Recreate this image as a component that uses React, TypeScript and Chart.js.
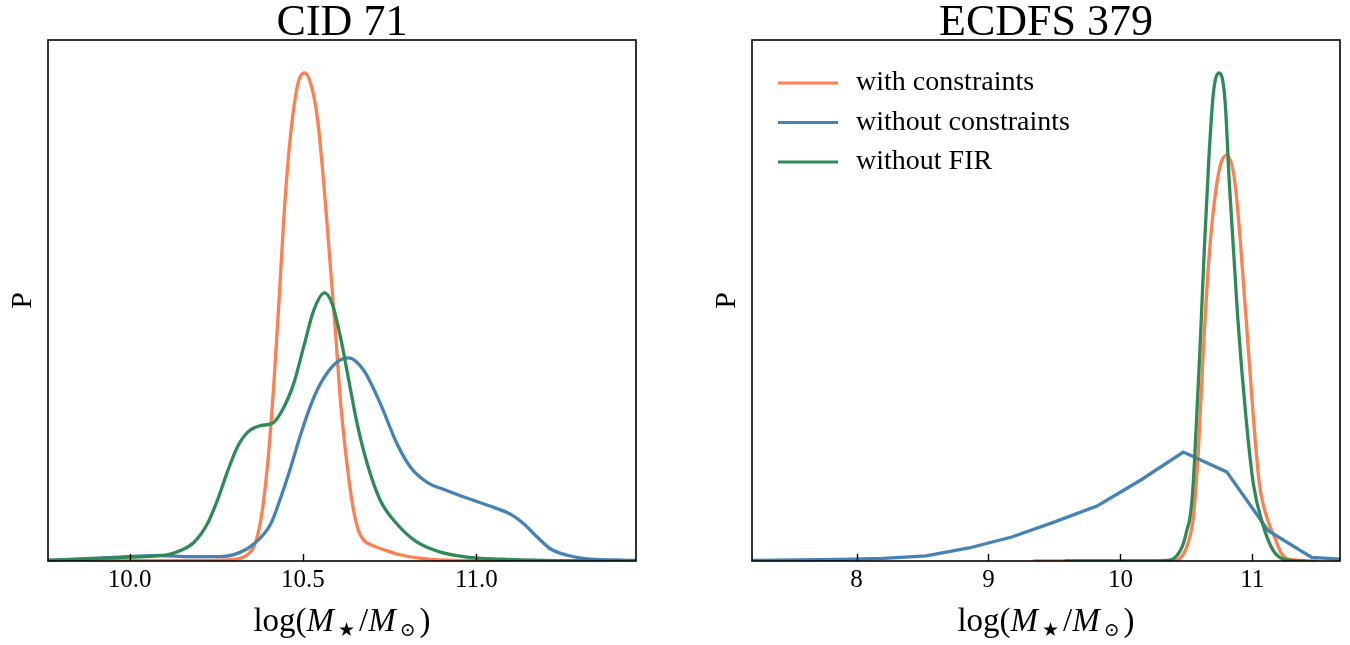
import React, { useEffect, useRef } from 'react';
import { Chart, registerables } from 'chart.js';

Chart.register(...registerables);

const SERIF = '"Liberation Serif", "Times New Roman", "DejaVu Serif", serif';

const SERIES_LABELS = ['with constraints', 'without constraints', 'without FIR'];
const SERIES_COLORS = ['#ff7f50', '#4682b4', '#2e8b57'];

// ---------- CID 71 ----------
const CID_TITLE = 'CID 71';
const CID_TICKS = [10.0, 10.5, 11.0];
const CID_TICK_LABELS = ['10.0', '10.5', '11.0'];
const CID_XMIN = 9.765;
const CID_XMAX = 11.46;

const CID_WITH_X = [9.765, 10.0, 10.2, 10.3, 10.34, 10.36, 10.38, 10.4, 10.416, 10.431, 10.445, 10.46, 10.474, 10.488, 10.505, 10.522, 10.541, 10.56, 10.579, 10.594, 10.608, 10.628, 10.645, 10.66, 10.675, 10.7, 10.74, 10.78, 10.83, 10.9, 11.0, 11.46];
const CID_WITH_Y = [0, 0.0005, 0.001, 0.003, 0.012, 0.03, 0.085, 0.2, 0.34, 0.5, 0.66, 0.789, 0.872, 0.923, 0.937, 0.917, 0.853, 0.725, 0.565, 0.437, 0.308, 0.18, 0.1, 0.058, 0.04, 0.03, 0.02, 0.012, 0.006, 0.002, 0.0005, 0];

const CID_WITHOUT_X = [9.765, 10.0, 10.09, 10.176, 10.263, 10.32, 10.359, 10.407, 10.435, 10.46, 10.492, 10.52, 10.55, 10.598, 10.632, 10.675, 10.723, 10.771, 10.81, 10.858, 10.916, 10.993, 11.05, 11.098, 11.137, 11.175, 11.214, 11.262, 11.32, 11.397, 11.46];
const CID_WITHOUT_Y = [0.001, 0.0085, 0.0106, 0.0085, 0.0085, 0.017, 0.033, 0.071, 0.12, 0.17, 0.24, 0.295, 0.34, 0.382, 0.39, 0.366, 0.302, 0.225, 0.18, 0.151, 0.135, 0.116, 0.103, 0.09, 0.071, 0.046, 0.023, 0.011, 0.004, 0.002, 0.001];

const CID_NOFIR_X = [9.765, 9.886, 10.0, 10.109, 10.147, 10.186, 10.224, 10.253, 10.282, 10.311, 10.34, 10.378, 10.411, 10.44, 10.473, 10.502, 10.531, 10.562, 10.584, 10.608, 10.632, 10.656, 10.685, 10.723, 10.771, 10.829, 10.896, 10.973, 11.069, 11.194, 11.46];
const CID_NOFIR_Y = [0.001, 0.004, 0.0073, 0.012, 0.02, 0.036, 0.071, 0.116, 0.171, 0.219, 0.247, 0.26, 0.264, 0.289, 0.34, 0.411, 0.481, 0.5145, 0.494, 0.43, 0.347, 0.264, 0.187, 0.116, 0.071, 0.036, 0.017, 0.0075, 0.0035, 0.001, 0];

// ---------- ECDFS 379 ----------
const ECDFS_TITLE = 'ECDFS 379';
const ECDFS_TICKS = [8, 9, 10, 11];
const ECDFS_TICK_LABELS = ['8', '9', '10', '11'];
const ECDFS_XMIN = 7.207;
const ECDFS_XMAX = 11.665;

const ECDFS_WITH_X = [9.34, 10.2, 10.4, 10.439, 10.47, 10.502, 10.53, 10.553, 10.591, 10.629, 10.667, 10.705, 10.755, 10.806, 10.869, 10.952, 11.008, 11.054, 11.122, 11.17, 11.22, 11.28, 11.5];
const ECDFS_WITH_Y = [0, 0, 0.001, 0.003, 0.01, 0.026, 0.05, 0.084, 0.212, 0.404, 0.565, 0.673, 0.757, 0.779, 0.725, 0.469, 0.276, 0.148, 0.075, 0.045, 0.015, 0.003, 0];

const ECDFS_WITHOUT_X = [7.1, 7.227, 7.552, 7.877, 8.202, 8.527, 8.852, 9.177, 9.502, 9.827, 10.152, 10.477, 10.806, 11.121, 11.45, 11.775];
const ECDFS_WITHOUT_Y = [0.001, 0.001, 0.002, 0.003, 0.005, 0.01, 0.025, 0.046, 0.075, 0.106, 0.155, 0.209, 0.171, 0.058, 0.007, 0.002];

const ECDFS_NOFIR_X = [9.58, 10.2, 10.35, 10.401, 10.45, 10.477, 10.505, 10.528, 10.55, 10.566, 10.603, 10.636, 10.67, 10.705, 10.75, 10.793, 10.826, 10.889, 10.952, 11.008, 11.079, 11.159, 11.26, 11.4];
const ECDFS_NOFIR_Y = [0, 0, 0.001, 0.004, 0.018, 0.033, 0.06, 0.084, 0.14, 0.212, 0.404, 0.597, 0.769, 0.898, 0.937, 0.885, 0.725, 0.469, 0.276, 0.148, 0.071, 0.02, 0.002, 0];

const toPoints = (xs: number[], ys: number[]) => xs.map((x, i) => ({ x, y: ys[i] }));

const decoPlugin = {
  id: 'deco',
  afterDraw(chart: any, _args: any, opts: any) {
    const { ctx, chartArea: a, scales } = chart;
    const xs = scales.x;
    ctx.save();
    // frame
    ctx.strokeStyle = '#000';
    ctx.lineWidth = 1.6;
    ctx.strokeRect(a.left, a.top, a.right - a.left, a.bottom - a.top);
    // inward tick marks
    ctx.lineWidth = 1.4;
    xs.ticks.forEach((t: any) => {
      const px = Math.round(xs.getPixelForValue(t.value)) + 0.5;
      ctx.beginPath();
      ctx.moveTo(px, a.bottom);
      ctx.lineTo(px, a.bottom - 7);
      ctx.stroke();
    });
    // x-axis title: log(M_star / M_sun)
    const big = 33;
    const small = 19;
    const parts = [
      { t: 'log(', font: `${big}px ${SERIF}`, dy: 0, pad: 0 },
      { t: 'M', font: `italic ${big}px ${SERIF}`, dy: 0, pad: 0 },
      { t: '\u2605', font: `${small}px ${SERIF}`, dy: 5, pad: 4 },
      { t: '/', font: `${big}px ${SERIF}`, dy: 0, pad: 0 },
      { t: 'M', font: `italic ${big}px ${SERIF}`, dy: 0, pad: 0 },
      { t: '\u2299', font: `${small}px ${SERIF}`, dy: 5, pad: 4 },
      { t: ')', font: `${big}px ${SERIF}`, dy: 0, pad: 0 },
    ];
    let total = 0;
    const widths = parts.map((p) => {
      ctx.font = p.font;
      const w = ctx.measureText(p.t).width + p.pad * 2;
      total += w;
      return w;
    });
    let cx = (a.left + a.right) / 2 - total / 2;
    const base = opts.titleBaseline;
    ctx.fillStyle = '#000';
    ctx.textBaseline = 'alphabetic';
    ctx.textAlign = 'left';
    parts.forEach((p, i) => {
      ctx.font = p.font;
      ctx.fillText(p.t, cx + p.pad, base + p.dy);
      cx += widths[i];
    });
    // legend
    if (opts.legend) {
      chart.data.datasets.forEach((ds: any, i: number) => {
        const ly = a.top + 43 + i * 39.5;
        ctx.strokeStyle = ds.borderColor;
        ctx.lineWidth = 3.2;
        ctx.beginPath();
        ctx.moveTo(a.left + 26, ly);
        ctx.lineTo(a.left + 86, ly);
        ctx.stroke();
        ctx.fillStyle = '#000';
        ctx.font = `28px ${SERIF}`;
        ctx.textBaseline = 'middle';
        ctx.fillText(ds.label, a.left + 104, ly);
      });
    }
    ctx.restore();
  },
};

type PanelProps = {
  title: string;
  left: number;
  xmin: number;
  xmax: number;
  ticks: number[];
  tickLabels: string[];
  series: { x: number[]; y: number[]; smooth: boolean }[];
  legend: boolean;
};

function Panel(props: PanelProps) {
  const ref = useRef<HTMLCanvasElement | null>(null);
  useEffect(() => {
    if (!ref.current) return;
    const orders = [2, 1, 0];
    const chart = new Chart(ref.current, {
      type: 'line',
      data: {
        datasets: props.series.map((s, i) => ({
          label: SERIES_LABELS[i],
          data: toPoints(s.x, s.y),
          borderColor: SERIES_COLORS[i],
          backgroundColor: SERIES_COLORS[i],
          borderWidth: 3.3,
          pointRadius: 0,
          fill: false,
          tension: 0,
          cubicInterpolationMode: s.smooth ? 'monotone' : 'default',
          order: orders[i],
        })),
      },
      options: {
        animation: false,
        responsive: false,
        maintainAspectRatio: false,
        events: [],
        layout: { padding: 0 },
        plugins: {
          legend: { display: false },
          tooltip: { enabled: false },
          title: {
            display: true,
            text: props.title,
            color: '#000',
            padding: { top: 6, bottom: 0 },
            font: { family: SERIF, size: 44, weight: 'normal', lineHeight: '34px' },
          },
          deco: { legend: props.legend, titleBaseline: 631 },
        } as any,
        scales: {
          x: {
            type: 'linear',
            min: props.xmin,
            max: props.xmax,
            grid: { display: false, drawTicks: false },
            border: { display: false },
            ticks: {
              color: '#000',
              padding: 4,
              font: { family: SERIF, size: 25 },
              callback: (v: any) => {
                const idx = props.ticks.findIndex((t) => Math.abs(t - Number(v)) < 1e-6);
                return idx >= 0 ? props.tickLabels[idx] : '';
              },
            },
            afterBuildTicks: (scale: any) => {
              scale.ticks = props.ticks.map((v) => ({ value: v }));
            },
            afterFit: (scale: any) => {
              scale.height = 84;
            },
          },
          y: {
            position: 'left',
            min: 0,
            max: 1,
            grid: { display: false, drawTicks: false },
            border: { display: false },
            ticks: { display: false },
            title: {
              display: true,
              text: 'P',
              color: '#000',
              padding: { top: 5, bottom: 0 },
              font: { family: SERIF, size: 30 },
            },
            afterFit: (scale: any) => {
              scale.width = 48;
            },
          },
          y2: {
            position: 'right',
            min: 0,
            max: 1,
            grid: { display: false, drawTicks: false },
            border: { display: false },
            ticks: { display: false },
            afterFit: (scale: any) => {
              scale.width = 48;
            },
          },
        },
      } as any,
      plugins: [decoPlugin as any],
    });
    return () => chart.destroy();
  }, []);
  return (
    <canvas
      ref={ref}
      width={684}
      height={645}
      style={{ position: 'absolute', left: props.left, top: 0, width: 684, height: 645, display: 'block' }}
    />
  );
}

export default function App() {
  return (
    <div
      style={{
        position: 'absolute',
        left: 0,
        top: 0,
        width: 1350,
        height: 645,
        overflow: 'hidden',
        background: '#fff',
      }}
    >
      <Panel
        title={CID_TITLE}
        left={0}
        xmin={CID_XMIN}
        xmax={CID_XMAX}
        ticks={CID_TICKS}
        tickLabels={CID_TICK_LABELS}
        legend={false}
        series={[
          { x: CID_WITH_X, y: CID_WITH_Y, smooth: true },
          { x: CID_WITHOUT_X, y: CID_WITHOUT_Y, smooth: true },
          { x: CID_NOFIR_X, y: CID_NOFIR_Y, smooth: true },
        ]}
      />
      <Panel
        title={ECDFS_TITLE}
        left={704}
        xmin={ECDFS_XMIN}
        xmax={ECDFS_XMAX}
        ticks={ECDFS_TICKS}
        tickLabels={ECDFS_TICK_LABELS}
        legend={true}
        series={[
          { x: ECDFS_WITH_X, y: ECDFS_WITH_Y, smooth: true },
          { x: ECDFS_WITHOUT_X, y: ECDFS_WITHOUT_Y, smooth: false },
          { x: ECDFS_NOFIR_X, y: ECDFS_NOFIR_Y, smooth: true },
        ]}
      />
    </div>
  );
}
